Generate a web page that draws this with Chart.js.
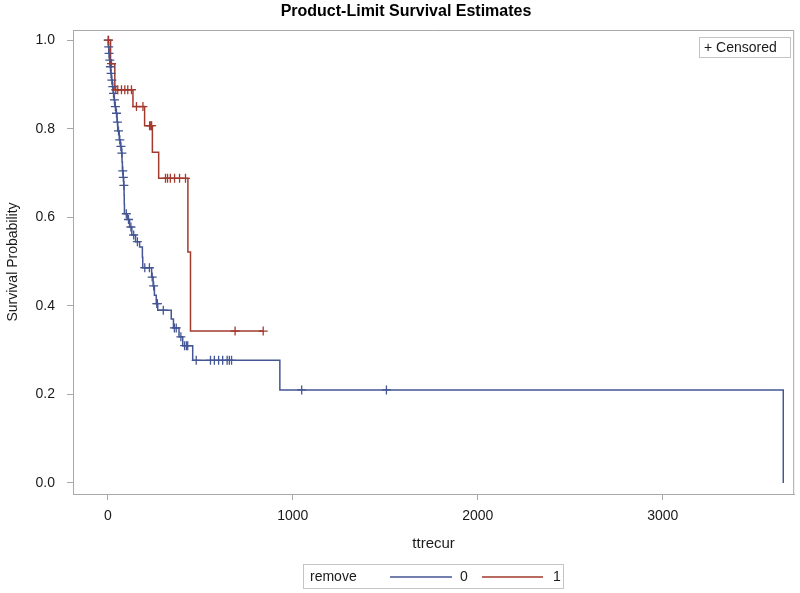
<!DOCTYPE html>
<html lang="en">

<head>
    <meta charset="UTF-8">
    <title>Product-Limit Survival Estimates</title>
    <script src="https://cdn.jsdelivr.net/npm/chart.js"></script>
    <style>
        body { margin: 0; background: #fff; }
    </style>
</head>

<body>
    <canvas id="kmChart" width="800" height="593"></canvas>
</body>

</html>

<script>
    var titulo = "Product-Limit Survival Estimates";
    var xTicks = [0, 1000, 2000, 3000];
    var yTicks = [0, 0.2, 0.4, 0.6, 0.8, 1.0];

    // remove = 0 : tempos dos eventos e sobrevida logo apos cada um
    var tempos0 = [0, 3, 6, 9, 12, 16, 20, 25, 29, 34, 38, 44, 50, 54, 62, 68, 74, 77, 79, 83, 86, 88, 89, 90,
        105, 118, 130, 150, 172, 187, 189, 237, 245, 252, 262, 270, 343, 355, 385, 405, 459, 930, 3651];
    var sobrev0 = [1, 0.985, 0.97, 0.955, 0.94, 0.925, 0.91, 0.895, 0.88, 0.865, 0.85, 0.835, 0.815, 0.795, 0.775,
        0.76, 0.745, 0.725, 0.705, 0.69, 0.672, 0.65, 0.63, 0.608, 0.595, 0.578, 0.56, 0.545, 0.533, 0.51, 0.486,
        0.465, 0.445, 0.424, 0.405, 0.39, 0.37, 0.35, 0.33, 0.31, 0.277, 0.21, 0];
    var censura0 = [2, 5, 7, 11, 14, 18, 22, 27, 31, 36, 41, 47, 52, 58, 65, 71, 76, 81, 84, 87, 100, 112, 125, 140,
        160, 200, 225, 240, 248, 265, 268, 300, 360, 370, 395, 415, 425, 432, 478, 555, 576, 599, 621, 645, 657,
        669, 1048, 1506];

    // remove = 1
    var tempos1 = [0, 15, 38, 136, 199, 241, 275, 433, 447, 840];
    var sobrev1 = [1, 0.947, 0.888, 0.85, 0.807, 0.747, 0.688, 0.5215, 0.343, 0.343];
    var censura1 = [4, 20, 43, 54, 74, 92, 108, 128, 155, 190, 226, 232, 237, 312, 323, 338, 361, 388, 420, 688, 840];

    var corAzul = "#445694";
    var corVermelho = "#A23A2E";
    var corMoldura = "#a8a8a8";
    var fonte = "'Liberation Sans', Arial, sans-serif";

    function pontos(tempos, valores) {
        var lista = [];
        for (var i = 0; i < tempos.length; i++) {
            lista.push({ x: tempos[i], y: valores[i] });
        }
        return lista;
    }

    function valorEm(tempos, valores, t) {
        var v = valores[0];
        for (var i = 0; i < tempos.length; i++) {
            if (tempos[i] <= t) v = valores[i];
        }
        return v;
    }

    function marcas(censura, tempos, valores) {
        var lista = [];
        for (var i = 0; i < censura.length; i++) {
            lista.push({ x: censura[i], y: valorEm(tempos, valores, censura[i]) });
        }
        return lista;
    }

    // titulo, moldura, caixa "Censored" e legenda
    var extras = {
        id: "extras",
        afterDraw: function (chart) {
            var ctx = chart.ctx;
            var a = chart.chartArea;
            ctx.save();

            ctx.strokeStyle = corMoldura;
            ctx.lineWidth = 1;
            ctx.beginPath();
            ctx.moveTo(a.left, a.top + 0.5);
            ctx.lineTo(a.right - 0.5, a.top + 0.5);
            ctx.lineTo(a.right - 0.5, a.bottom);
            ctx.stroke();

            ctx.fillStyle = "#000";
            ctx.font = "bold 16px " + fonte;
            ctx.textAlign = "center";
            ctx.textBaseline = "middle";
            ctx.fillText(titulo, 406, 12);

            // caixa censored
            ctx.strokeStyle = "#c4c4c4";
            ctx.strokeRect(699.5, 37.5, 91, 20);
            ctx.font = "14px " + fonte;
            ctx.textAlign = "left";
            ctx.fillStyle = "#1a1a1a";
            ctx.fillText("+ Censored", 704, 48);

            // legenda
            ctx.strokeStyle = "#c4c4c4";
            ctx.strokeRect(303.5, 564.5, 260, 24);
            ctx.fillText("remove", 310, 577);
            ctx.lineWidth = 1.3;
            ctx.strokeStyle = corAzul;
            ctx.beginPath();
            ctx.moveTo(390, 577);
            ctx.lineTo(452, 577);
            ctx.stroke();
            ctx.fillText("0", 460, 577);
            ctx.strokeStyle = corVermelho;
            ctx.beginPath();
            ctx.moveTo(482, 577);
            ctx.lineTo(543, 577);
            ctx.stroke();
            ctx.fillText("1", 553, 577);

            ctx.restore();
        }
    };

    new Chart(document.getElementById("kmChart"), {
        type: "line",
        data: {
            datasets: [{
                type: "scatter",
                label: "censura 1",
                data: marcas(censura1, tempos1, sobrev1),
                pointStyle: "cross",
                pointRadius: 4.5,
                borderColor: corVermelho,
                borderWidth: 1.3,
                showLine: false
            }, {
                type: "scatter",
                label: "censura 0",
                data: marcas(censura0, tempos0, sobrev0),
                pointStyle: "cross",
                pointRadius: 4.5,
                borderColor: corAzul,
                borderWidth: 1.3,
                showLine: false
            }, {
                label: "1",
                data: pontos(tempos1, sobrev1),
                stepped: "before",
                borderColor: corVermelho,
                borderWidth: 1.5,
                pointRadius: 0,
                fill: false
            }, {
                label: "0",
                data: pontos(tempos0, sobrev0),
                stepped: "before",
                borderColor: corAzul,
                borderWidth: 1.5,
                pointRadius: 0,
                fill: false
            }]
        },
        options: {
            responsive: false,
            animation: false,
            layout: { padding: { top: 30, right: 3, left: 0, bottom: 0 } },
            plugins: {
                legend: { display: false },
                title: { display: false },
                tooltip: { enabled: false }
            },
            scales: {
                x: {
                    type: "linear",
                    min: -188,
                    max: 3710,
                    afterBuildTicks: function (s) {
                        s.ticks = xTicks.map(function (v) { return { value: v }; });
                    },
                    afterFit: function (s) { s.height = 99; },
                    ticks: {
                        color: "#1a1a1a",
                        font: { size: 14, family: fonte },
                        padding: 8,
                        maxRotation: 0,
                        callback: function (v) { return String(v); }
                    },
                    grid: { drawOnChartArea: false, tickLength: 6, color: corMoldura },
                    border: { color: corMoldura },
                    title: {
                        display: true,
                        text: "ttrecur",
                        color: "#1a1a1a",
                        font: { size: 15, family: fonte },
                        padding: { top: 0, bottom: 40 }
                    }
                },
                y: {
                    type: "linear",
                    min: -0.025,
                    max: 1.023,
                    afterBuildTicks: function (s) {
                        s.ticks = yTicks.map(function (v) { return { value: v }; });
                    },
                    afterFit: function (s) { s.width = 73; },
                    ticks: {
                        color: "#1a1a1a",
                        font: { size: 14, family: fonte },
                        padding: 12,
                        callback: function (v) { return Number(v).toFixed(1); }
                    },
                    grid: { drawOnChartArea: false, tickLength: 6, color: corMoldura },
                    border: { color: corMoldura },
                    title: {
                        display: true,
                        text: "Survival Probability",
                        color: "#1a1a1a",
                        font: { size: 14, family: fonte },
                        padding: { top: 5, bottom: 0 }
                    }
                }
            }
        },
        plugins: [extras]
    });
</script>
